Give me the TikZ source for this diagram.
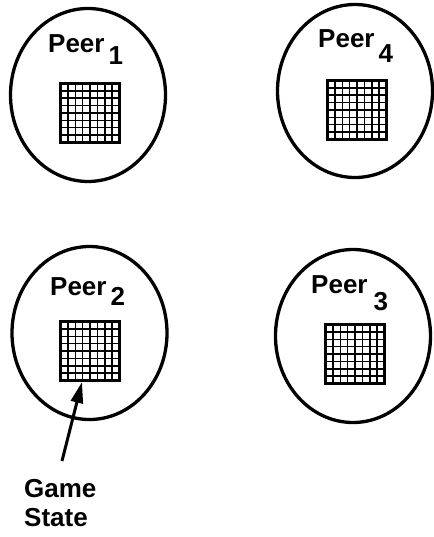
\documentclass[tikz,border=0pt]{standalone}
\usepackage{fontspec}
\setmainfont{Liberation Sans}
\usetikzlibrary{shapes.geometric,arrows.meta,calc}
\tikzset{
  peerbox/.style={draw, line width=3.3pt, ellipse, inner sep=0pt, minimum width=155pt, minimum height=173pt},
  gridbox/.style={draw, line width=3pt, rectangle, inner sep=0pt, minimum size=59pt,
    path picture={
      \foreach \i in {1,...,7}{
        \draw[line width=1.5pt] ($(path picture bounding box.south west)!\i/8!(path picture bounding box.south east)$) --
                              ($(path picture bounding box.north west)!\i/8!(path picture bounding box.north east)$);
        \draw[line width=1.5pt] ($(path picture bounding box.south west)!\i/8!(path picture bounding box.north west)$) --
                              ($(path picture bounding box.south east)!\i/8!(path picture bounding box.north east)$);
      }
      \fill ($(path picture bounding box.south west)$) rectangle ($(path picture bounding box.south west)!0.75!(path picture bounding box.south east)+(0,-4pt)$);
    }},
  peerlabel/.style={anchor=base west, inner sep=0pt, font={\bfseries\fontsize{26}{30}\selectfont}},
  notelabel/.style={anchor=north west, inner sep=0pt, align=left, font={\bfseries\fontsize{26}{29}\selectfont}},
  pointer/.style={line width=3pt, -{Triangle[length=21pt,width=12pt]}}
}
\begin{document}
\begin{tikzpicture}[x=1pt,y=-1pt]
\useasboundingbox (0,0) rectangle (433,537);
% peers
\node[peerbox] (p1) at (88,95) {};
\node[peerbox] (p4) at (355,91) {};
\node[peerbox] (p2) at (89.5,333) {};
\node[peerbox] (p3) at (353,336) {};
% labels
\node[peerlabel] (l1) at (48,53) {Peer\hspace{4pt}\raisebox{-12pt}{1}};
\node[peerlabel] (l4) at (318,48) {Peer\hspace{4pt}\raisebox{-15pt}{4}};
\node[peerlabel] (l2) at (50,295) {Peer\hspace{4pt}\raisebox{-10pt}{2}};
\node[peerlabel] (l3) at (311,293) {Peer\hspace{6pt}\raisebox{-17pt}{3}};
% game state grids
\node[gridbox] (g1) at (90,113) {};
\node[gridbox] (g4) at (357,110) {};
\node[gridbox] (g2) at (90,351) {};
\node[gridbox] (g3) at (355,354) {};
% annotation
\node[notelabel] (gs) at (24,479) {Game\\State};
\coordinate (gstail) at (62,461);
\coordinate (gstip) at ($(g2.south west)+(23,0)$);
\draw[pointer] (gstail) -- (gstip);
\end{tikzpicture}
\end{document}
